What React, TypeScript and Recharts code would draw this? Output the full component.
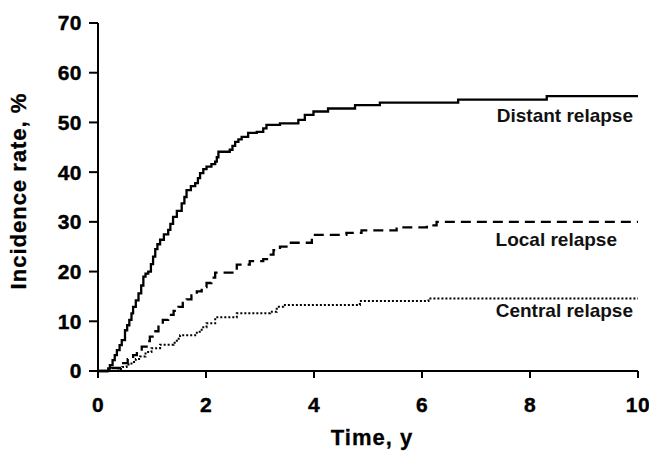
import { Label, Line, LineChart, ReferenceDot, XAxis, YAxis } from 'recharts';

const FONT = '"Liberation Sans", Arial, sans-serif';

const X_TICKS = [0, 2, 4, 6, 8, 10];
const Y_TICKS = [0, 10, 20, 30, 40, 50, 60, 70];

// Distant relapse (solid)
const distantTime = [
  0, 0.19, 0.22, 0.27, 0.31, 0.35, 0.4, 0.44, 0.5, 0.54, 0.58, 0.62, 0.65, 0.7, 0.75, 0.8, 0.84, 0.88,
  0.93, 0.98, 1.02, 1.06, 1.1, 1.15, 1.22, 1.3, 1.34, 1.39, 1.46, 1.55, 1.6, 1.64, 1.72, 1.8, 1.85, 1.89,
  1.95, 2.01, 2.1, 2.17, 2.2, 2.23, 2.44, 2.49, 2.54, 2.6, 2.66, 2.78, 2.94, 3.06, 3.12, 3.37, 3.71, 3.83,
  3.99, 4.26, 4.76, 5.22, 6.67, 8.31, 10,
];
const distantRate = [
  0, 0.5, 1.2, 2.2, 3.2, 4.2, 5.2, 6.2, 8.2, 9.2, 10.3, 11.6, 12.9, 14.2, 15.6, 17.2, 19, 19.6,
  20, 21.5, 23, 24.5, 25.5, 26.4, 27.5, 28.4, 29.6, 31, 32.2, 33.7, 35, 36.4, 37.2, 37.8, 38.8, 39.8,
  40.6, 41.1, 41.6, 42.1, 43, 44.1, 44.5, 45.3, 46.1, 46.6, 47.1, 47.9, 48.1, 48.8, 49.5, 49.8, 50.5, 51.5,
  52.2, 52.8, 53.5, 54, 54.6, 55.3, 55.3,
];

// Local relapse (dashed)
const localTime = [
  0, 0.25, 0.44, 0.55, 0.65, 0.72, 0.81, 0.9, 0.96, 1.04, 1.12, 1.2, 1.3, 1.4, 1.49, 1.57, 1.64, 1.73,
  1.83, 1.92, 2.01, 2.1, 2.17, 2.57, 2.81, 3.06, 3.16, 3.25, 3.37, 3.49, 3.96, 4.6, 4.88, 5.53, 6.09,
  6.27, 10,
];
const localRate = [
  0, 0.6, 1.6, 2.4, 3.2, 4, 4.9, 6, 6.9, 8, 9.3, 10.3, 11.3, 12.1, 12.9, 13.7, 14.4, 15.2,
  16, 16.9, 17.7, 18.8, 19.8, 21.4, 22.1, 22.5, 23.4, 24.3, 25, 25.8, 27.4, 27.8, 28.3, 28.9, 29.3,
  30, 30,
];

// Central relapse (dotted)
const centralTime = [
  0, 0.38, 0.45, 0.53, 0.62, 0.7, 0.78, 0.88, 0.99, 1.15, 1.4, 1.46, 1.52, 1.83, 1.92, 2.01, 2.17,
  2.57, 3.19, 3.31, 3.43, 4.85, 6.12, 10,
];
const centralRate = [
  0, 0.4, 0.8, 1.3, 1.8, 2.4, 2.9, 3.8, 4.6, 5.3, 5.7, 6.5, 7.2, 7.9, 8.8, 9.6, 10.8,
  11.6, 11.9, 12.9, 13.3, 14.1, 14.6, 14.6,
];

const toSeries = (t: number[], v: number[]) => t.map((x, i) => ({ t: x, v: v[i] }));

const distant = toSeries(distantTime, distantRate);
const local = toSeries(localTime, localRate);
const central = toSeries(centralTime, centralRate);

const tickStyle = {
  fontFamily: FONT,
  fontSize: 21,
  fontWeight: 700,
  fill: '#000',
  stroke: '#000',
  strokeWidth: 0.4,
  letterSpacing: 0.5,
};
const titleStyle = {
  fontFamily: FONT,
  fontSize: 22,
  fontWeight: 700,
  fill: '#000',
  stroke: '#000',
  strokeWidth: 0.3,
  letterSpacing: 1,
};
const labelStyle = { fontFamily: FONT, fontSize: 19, fontWeight: 700, fill: '#111' };

export default function App() {
  return (
    <div style={{ position: 'absolute', left: 0, top: 0, background: '#fff' }}>
      <LineChart width={649} height={457} margin={{ top: 23, right: 11, bottom: 0, left: 0 }}>
        <XAxis
          type="number"
          dataKey="t"
          domain={[0, 10]}
          ticks={X_TICKS}
          height={86}
          axisLine={{ stroke: '#000', strokeWidth: 2 }}
          tickLine={{ stroke: '#000', strokeWidth: 2 }}
          tickSize={7}
          tickMargin={19}
          tick={tickStyle}
        >
          <Label
            content={(props: any) => {
              const vb = props.viewBox;
              const cx = vb.x + vb.width / 2 + 4;
              const cy = vb.y + 66;
              return (
                <text x={cx} y={cy} textAnchor="middle" dominantBaseline="central" style={titleStyle}>
                  Time, y
                </text>
              );
            }}
          />
        </XAxis>
        <YAxis
          type="number"
          dataKey="v"
          domain={[0, 70]}
          ticks={Y_TICKS}
          width={98}
          axisLine={{ stroke: '#000', strokeWidth: 2 }}
          tickLine={{ stroke: '#000', strokeWidth: 2 }}
          tickSize={9}
          tickMargin={7}
          tick={tickStyle}
        >
          <Label
            content={(props: any) => {
              const vb = props.viewBox;
              const cx = vb.x + 18;
              const cy = vb.y + vb.height / 2 - 6;
              return (
                <text
                  x={cx}
                  y={cy}
                  transform={`rotate(-90 ${cx} ${cy})`}
                  textAnchor="middle"
                  dominantBaseline="central"
                  style={titleStyle}
                >
                  Incidence rate, %
                </text>
              );
            }}
          />
        </YAxis>
        <Line data={distant} dataKey="v" type="stepAfter" stroke="#000" strokeWidth={2.3} dot={false} isAnimationActive={false} />
        <Line data={local} dataKey="v" type="stepAfter" stroke="#000" strokeWidth={2.3} strokeDasharray="10 6" dot={false} isAnimationActive={false} />
        <Line data={central} dataKey="v" type="stepAfter" stroke="#000" strokeWidth={2} strokeDasharray="2 2" dot={false} isAnimationActive={false} />
        <ReferenceDot x={10} y={51.5} r={0} stroke="none" label={{ value: 'Distant relapse', position: 'left', offset: 5, style: labelStyle }} />
        <ReferenceDot x={10} y={26.5} r={0} stroke="none" label={{ value: 'Local relapse', position: 'left', offset: 21, style: labelStyle }} />
        <ReferenceDot x={10} y={12.3} r={0} stroke="none" label={{ value: 'Central relapse', position: 'left', offset: 5, style: labelStyle }} />
      </LineChart>
    </div>
  );
}
